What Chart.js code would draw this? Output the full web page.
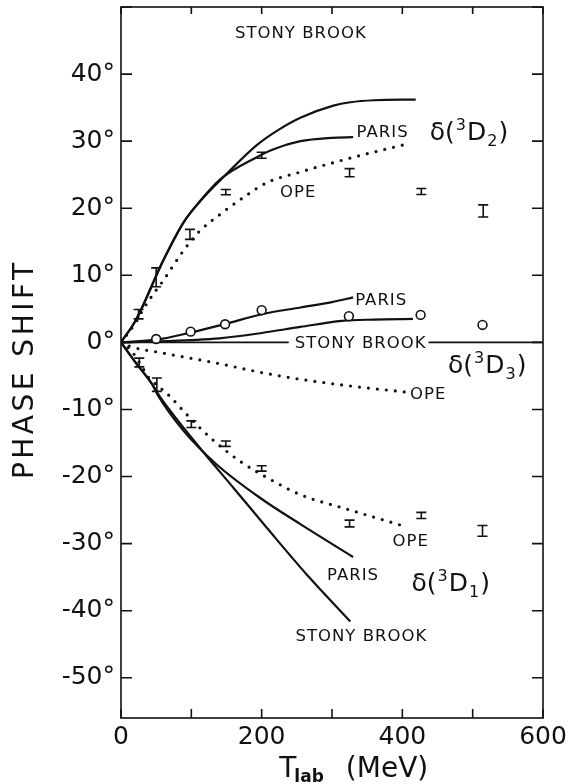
<!DOCTYPE html>
<html>
<head>
<meta charset="utf-8">
<script src="https://cdn.jsdelivr.net/npm/chart.js@4.4.1/dist/chart.umd.min.js"></script>
<style>
  html, body { margin: 0; padding: 0; background: #fff; }
  #wrap { width: 572px; height: 784px; }
</style>
</head>
<body>
<div id="wrap"><canvas id="phaseChart" width="572" height="784"></canvas></div>
<script>
// ---- values: T_lab (MeV) vs phase shift (deg) ----

// 3D2
const sb3D2X    = [0, 22, 60, 89, 112, 150, 193, 221, 255, 302, 326, 360, 419];
const sb3D2Y    = [0, 3.5, 12.2, 17.9, 21.0, 25.1, 29.4, 31.5, 33.5, 35.3, 35.8, 36.1, 36.2];
const paris3D2X = [0, 22, 60, 89, 112, 141, 193, 217, 255, 300, 330];
const paris3D2Y = [0, 3.5, 12.2, 17.9, 21.0, 24.3, 27.6, 28.8, 30.0, 30.5, 30.6];
const ope3D2X   = [0, 20, 32, 46, 60, 89, 112, 141, 174, 207, 255, 302, 349, 400];
const ope3D2Y   = [0, 2.8, 5.0, 7.2, 9.2, 13.7, 16.6, 19.1, 21.6, 23.8, 25.4, 26.8, 28.1, 29.4];
const data3D2X  = [25, 50, 98, 149, 200, 325, 427, 515];
const data3D2Y  = [4.2, 9.7, 16.1, 22.4, 27.9, 25.3, 22.5, 19.6];
const data3D2E  = [0.7, 1.4, 0.75, 0.4, 0.45, 0.6, 0.45, 0.9];

// 3D3
const paris3D3X = [0, 50, 100, 150, 200, 255, 300, 330];
const paris3D3Y = [0, 0.4, 1.5, 2.8, 4.2, 5.2, 6.0, 6.7];
const sb3D3X    = [0, 50, 100, 140, 200, 255, 314, 360, 415];
const sb3D3Y    = [0, 0.15, 0.35, 0.6, 1.4, 2.3, 3.2, 3.4, 3.5];
const ope3D3X   = [0, 13, 60, 141, 200, 255, 326, 404];
const ope3D3Y   = [0, -0.6, -1.6, -3.2, -4.5, -5.5, -6.5, -7.4];
const data3D3X  = [50, 99, 148, 200, 324, 426, 514];
const data3D3Y  = [0.5, 1.6, 2.7, 4.8, 3.9, 4.1, 2.6];

// 3D1
const paris3D1X = [0, 20, 44, 53, 89, 136, 198, 255, 330];
const paris3D1Y = [0, -2.9, -6.2, -8.0, -13.2, -18.2, -23.2, -27.1, -32.0];
const sb3D1X    = [0, 20, 44, 56, 112, 160, 207, 264, 326];
const sb3D1Y    = [0, -2.9, -6.2, -8.2, -15.7, -21.7, -27.6, -34.6, -41.6];
const ope3D1X   = [0, 15, 29, 39, 55, 70, 93, 127, 169, 217, 255, 326, 406];
const ope3D1Y   = [0, -1.3, -3.5, -5.2, -6.7, -8.1, -10.7, -14.2, -17.7, -20.7, -22.7, -25.0, -27.5];
const data3D1X  = [26, 51, 100, 149, 200, 325, 427, 514];
const data3D1Y  = [-3.0, -6.3, -12.2, -15.1, -18.8, -27.0, -25.8, -28.1];
const data3D1E  = [0.65, 1.0, 0.5, 0.4, 0.4, 0.5, 0.45, 0.8];

// axis line at zero
const zeroX = [0, 600];
const zeroY = [0, 0];

/* ========================================
   helpers
======================================== */
const INK = '#111';
const FONT = '"DejaVu Sans", "Liberation Sans", sans-serif';
const pts = (xs, ys) => xs.map((x, i) => ({ x, y: ys[i] }));

const solid = (xs, ys) => ({
  data: pts(xs, ys),
  showLine: true,
  borderColor: INK,
  borderWidth: 2.2,
  pointRadius: 0,
  cubicInterpolationMode: 'monotone',
});
const dotted = (xs, ys) => ({
  ...solid(xs, ys),
  borderWidth: 3.2,
  borderDash: [0, 9],
  borderCapStyle: 'round',
});

// labels in data units (left edge, baseline)
const notes = [
  { parts: [{ t: 'STONY BROOK' }], x: 162, y: 45.4 },
  { parts: [{ t: 'PARIS' }], x: 335, y: 30.6 },
  { parts: [{ t: 'OPE' }], x: 226, y: 21.6 },
  { parts: [{ t: 'PARIS' }], x: 333, y: 5.6 },
  { parts: [{ t: 'STONY BROOK' }], x: 247, y: -0.8, knockout: true },
  { parts: [{ t: 'OPE' }], x: 411, y: -8.5 },
  { parts: [{ t: 'OPE' }], x: 386, y: -30.4 },
  { parts: [{ t: 'PARIS' }], x: 293, y: -35.5 },
  { parts: [{ t: 'STONY BROOK' }], x: 248, y: -44.5 },
  { parts: [{ t: 'δ(' }, { t: '3', sup: true }, { t: 'D' }, { t: '2', sub: true }, { t: ')' }], x: 439, y: 30.1, size: 25 },
  { parts: [{ t: 'δ(' }, { t: '3', sup: true }, { t: 'D' }, { t: '3', sub: true }, { t: ')' }], x: 465, y: -4.5, size: 25 },
  { parts: [{ t: 'δ(' }, { t: '3', sup: true }, { t: 'D' }, { t: '1', sub: true }, { t: ')' }], x: 413, y: -37.1, size: 25 },
];

const drawParts = (ctx, x0, base, parts, size, spacing) => {
  let cx = x0;
  parts.forEach(p => {
    const s = (p.sup || p.sub) ? size * 0.64 : size;
    ctx.font = `${s}px ${FONT}`;
    ctx.letterSpacing = spacing + 'px';
    const dy = p.sup ? -size * 0.4 : p.sub ? size * 0.24 : 0;
    ctx.fillText(p.t, cx, base + dy);
    cx += ctx.measureText(p.t).width + 1;
  });
  return cx - x0;
};

/* ========================================
   plugins: frame + inward ticks, error bars, labels, titles
======================================== */
const errorBars = {
  id: 'errorBars',
  afterDatasetsDraw(chart) {
    const { ctx, scales: { x, y } } = chart;
    ctx.save();
    ctx.strokeStyle = INK;
    ctx.lineWidth = 1.6;
    [[data3D2X, data3D2Y, data3D2E], [data3D1X, data3D1Y, data3D1E]].forEach(([xs, ys, es]) => {
      xs.forEach((v, i) => {
        const px = x.getPixelForValue(v);
        const top = y.getPixelForValue(ys[i] + es[i]);
        const bot = y.getPixelForValue(ys[i] - es[i]);
        ctx.beginPath();
        ctx.moveTo(px, top); ctx.lineTo(px, bot);
        ctx.moveTo(px - 5, top); ctx.lineTo(px + 5, top);
        ctx.moveTo(px - 5, bot); ctx.lineTo(px + 5, bot);
        ctx.stroke();
      });
    });
    ctx.restore();
  }
};

const annotations = {
  id: 'annotations',
  afterDatasetsDraw(chart) {
    const { ctx, scales: { x, y } } = chart;
    ctx.save();
    ctx.fillStyle = INK;
    ctx.textBaseline = 'alphabetic';
    ctx.textAlign = 'left';
    notes.forEach(n => {
      const px = x.getPixelForValue(n.x);
      const py = y.getPixelForValue(n.y);
      const size = n.size || 16.5;
      const spacing = n.size ? 0 : 1;
      if (n.knockout) {
        ctx.font = `${size}px ${FONT}`;
        ctx.letterSpacing = spacing + 'px';
        const w = ctx.measureText(n.parts[0].t).width;
        ctx.fillStyle = '#fff';
        ctx.fillRect(px - 6, py - 15, w + 8, 20);
        ctx.fillStyle = INK;
      }
      drawParts(ctx, px, py, n.parts, size, spacing);
    });
    ctx.restore();
  }
};

const frame = {
  id: 'frame',
  afterDraw(chart) {
    const { ctx, chartArea: a, scales: { x, y } } = chart;
    ctx.save();
    ctx.strokeStyle = INK;
    ctx.lineWidth = 1.6;
    ctx.strokeRect(a.left, a.top, a.right - a.left, a.bottom - a.top);
    ctx.beginPath();
    x.ticks.forEach(t => {
      if (t.value % 100 !== 0) return;
      const px = x.getPixelForValue(t.value);
      ctx.moveTo(px, a.bottom); ctx.lineTo(px, a.bottom - 9);
      ctx.moveTo(px, a.top); ctx.lineTo(px, a.top + 7);
    });
    y.ticks.forEach(t => {
      if (t.value % 10 !== 0) return;
      const py = y.getPixelForValue(t.value);
      ctx.moveTo(a.left, py); ctx.lineTo(a.left + 11, py);
      ctx.moveTo(a.right, py); ctx.lineTo(a.right - 11, py);
    });
    ctx.stroke();

    // axis titles
    ctx.fillStyle = INK;
    ctx.textBaseline = 'alphabetic';
    // x title: T_lab (MeV)
    let tx = x.getPixelForValue(225);
    const tb = a.bottom + 59;
    ctx.font = `28px ${FONT}`;
    ctx.fillText('T', tx, tb);
    tx += ctx.measureText('T').width - 2;
    ctx.font = `bold 17px ${FONT}`;
    ctx.fillText('lab', tx, tb + 5);
    tx += ctx.measureText('lab').width + 22;
    ctx.font = `28px ${FONT}`;
    ctx.fillText('(MeV)', tx, tb);

    // y title
    ctx.translate(a.left - 88, y.getPixelForValue(-4));
    ctx.rotate(-Math.PI / 2);
    ctx.textAlign = 'center';
    ctx.font = `28px ${FONT}`;
    ctx.letterSpacing = '3.5px';
    ctx.fillText('PHASE SHIFT', 0, 0);
    ctx.restore();
  }
};

/* ========================================
   chart
======================================== */
const tickFont = { family: FONT, size: 25 };

new Chart(document.getElementById('phaseChart').getContext('2d'), {
  type: 'scatter',
  data: {
    datasets: [
      {
        data: pts(data3D3X, data3D3Y),
        pointRadius: 4.4,
        pointBackgroundColor: '#fff',
        pointBorderColor: INK,
        pointBorderWidth: 1.6,
        showLine: false,
      },
      solid(sb3D2X, sb3D2Y),
      solid(paris3D2X, paris3D2Y),
      dotted(ope3D2X, ope3D2Y),
      solid(paris3D3X, paris3D3Y),
      solid(sb3D3X, sb3D3Y),
      dotted(ope3D3X, ope3D3Y),
      solid(paris3D1X, paris3D1Y),
      solid(sb3D1X, sb3D1Y),
      dotted(ope3D1X, ope3D1Y),
      { ...solid(zeroX, zeroY), borderWidth: 1.6, cubicInterpolationMode: 'default', tension: 0 },
    ]
  },
  options: {
    responsive: false,
    animation: false,
    devicePixelRatio: 1,
    layout: { padding: { top: 7, right: 29, left: 0, bottom: 0 } },
    plugins: { legend: { display: false }, tooltip: { enabled: false } },
    scales: {
      x: {
        type: 'linear',
        min: 0,
        max: 600,
        grid: { display: false, drawTicks: false },
        border: { display: false },
        ticks: {
          stepSize: 100,
          autoSkip: false,
          maxRotation: 0,
          padding: 4,
          color: INK,
          font: tickFont,
          callback: v => (v % 200 === 0 ? String(v) : ''),
        },
        afterFit: s => { s.height = 66; s.paddingLeft = 0; s.paddingRight = 0; },
      },
      y: {
        type: 'linear',
        min: -56,
        max: 50,
        grid: { display: false, drawTicks: false },
        border: { display: false },
        ticks: {
          stepSize: 10,
          autoSkip: false,
          padding: 6,
          color: INK,
          font: tickFont,
          callback: v => (v % 10 === 0 && v < 50 ? v + '°' : ''),
        },
        afterFit: s => { s.width = 121; s.paddingTop = 0; s.paddingBottom = 0; },
      },
    },
  },
  plugins: [errorBars, annotations, frame],
});
</script>
</body>
</html>
